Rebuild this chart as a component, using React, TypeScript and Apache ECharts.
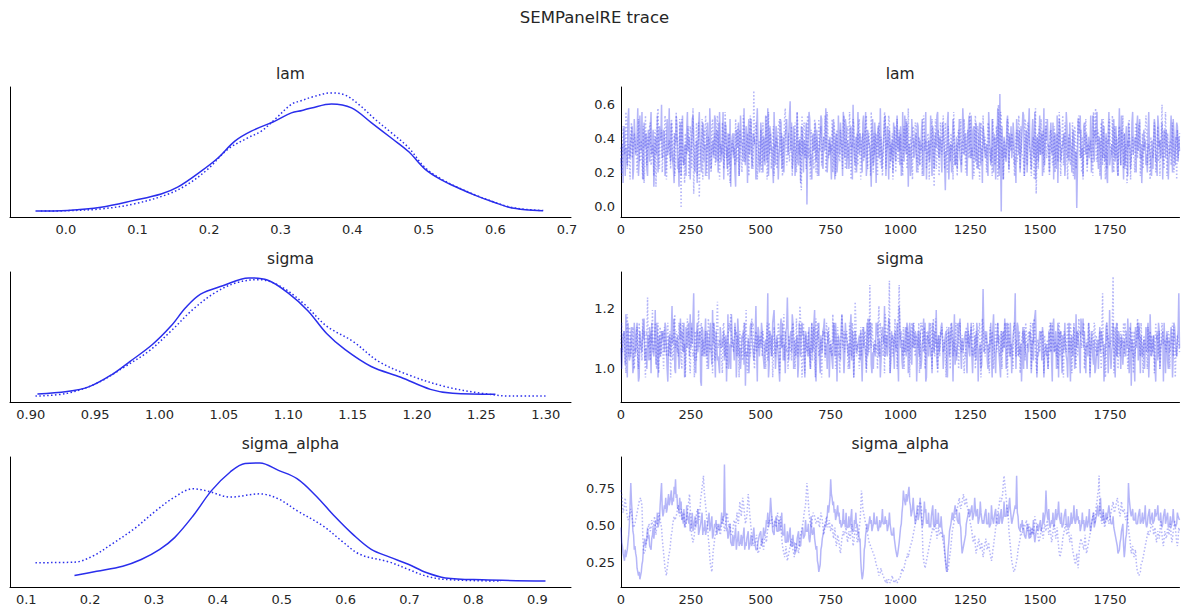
import React, { useEffect, useRef } from "react";
import * as echarts from "echarts";

// ---------- posterior densities: [value, density] ----------
const lamKde0 = [
  [-0.0425, 0.0], [0.002, 0.02], [0.049, 0.11], [0.095, 0.3], [0.133, 0.48], [0.156, 0.67],
  [0.189, 1.12], [0.212, 1.48], [0.236, 1.96], [0.259, 2.24], [0.292, 2.52], [0.315, 2.75],
  [0.33, 2.82], [0.343, 2.89], [0.371, 3.0], [0.399, 2.89], [0.427, 2.47], [0.455, 2.04],
  [0.479, 1.66], [0.502, 1.17], [0.526, 0.86], [0.549, 0.64], [0.572, 0.44], [0.596, 0.26],
  [0.619, 0.11], [0.642, 0.04], [0.666, 0.01],
];
const lamKde1 = [
  [-0.035, 0.0], [0.0, 0.01], [0.049, 0.06], [0.095, 0.2], [0.142, 0.47], [0.17, 0.75],
  [0.198, 1.17], [0.226, 1.73], [0.254, 2.05], [0.273, 2.24], [0.292, 2.57], [0.315, 2.99],
  [0.33, 3.1], [0.343, 3.19], [0.371, 3.31], [0.39, 3.25], [0.409, 2.99], [0.432, 2.57],
  [0.455, 2.19], [0.479, 1.77], [0.502, 1.21], [0.526, 0.88], [0.549, 0.65], [0.572, 0.45],
  [0.596, 0.27], [0.619, 0.12], [0.642, 0.05], [0.67, 0.01],
];
const sigmaKde0 = [
  [0.9052, 0.21], [0.9282, 0.36], [0.9455, 0.67], [0.9628, 1.41], [0.9772, 2.25], [0.9945, 3.3],
  [1.0089, 4.45], [1.0204, 5.61], [1.0319, 6.45], [1.0492, 6.97], [1.0693, 7.46], [1.0837, 7.33],
  [1.101, 6.45], [1.1154, 5.4], [1.1298, 3.99], [1.1442, 2.98], [1.1644, 1.93], [1.1874, 1.26],
  [1.2104, 0.5], [1.2277, 0.25], [1.2609, 0.19],
];
const sigmaKde1 = [
  [0.9037, 0.08], [0.9282, 0.25], [0.9513, 0.88], [0.9714, 1.83], [0.9916, 2.88], [1.0089, 4.14],
  [1.0261, 5.5], [1.0434, 6.55], [1.0607, 7.18], [1.078, 7.35], [1.0953, 6.87], [1.1125, 5.82],
  [1.1298, 4.45], [1.15, 3.51], [1.1701, 2.25], [1.1932, 1.41], [1.222, 0.67], [1.2508, 0.25],
  [1.2739, 0.08], [1.2998, 0.08],
];
const sigmaAlphaKde0 = [
  [0.1755, 0.24], [0.2103, 0.4], [0.251, 0.59], [0.28, 0.84], [0.309, 1.22], [0.3322, 1.66],
  [0.3613, 2.48], [0.3903, 3.43], [0.4193, 4.12], [0.4425, 4.44], [0.4658, 4.46], [0.4948, 4.18],
  [0.5238, 3.87], [0.5529, 3.24], [0.5819, 2.48], [0.6109, 1.79], [0.64, 1.22], [0.669, 0.93],
  [0.698, 0.66], [0.7271, 0.34], [0.7561, 0.15], [0.8141, 0.08], [0.9128, 0.03],
];
const sigmaAlphaKde1 = [
  [0.1145, 0.72], [0.1755, 0.74], [0.2045, 0.97], [0.2335, 1.41], [0.2684, 1.98], [0.3032, 2.67],
  [0.3322, 3.18], [0.3613, 3.49], [0.3845, 3.4], [0.4193, 3.18], [0.4658, 3.3], [0.4948, 3.11],
  [0.5238, 2.67], [0.5645, 2.1], [0.5935, 1.54], [0.6225, 1.03], [0.669, 0.74], [0.698, 0.47],
  [0.7271, 0.21], [0.7561, 0.09], [0.8432, 0.03],
];

// ---------- MCMC draws ----------
// One character per kept draw; value = lo + LEVELS.indexOf(char) * step.
// "Even" and "Odd" hold alternating kept draws and are interleaved when plotted.
const LEVELS = "0123456789ABCDEFGHIJKLMNOPQRSTUVWXYZ";

const lamChain0Even = [
  "GKNBJRHLPD", "MIUFKTAJNB", "LPHOEKSIMV", "JNDRLHQF9K", "PGMBSEKOIL", "HRNCLJTGMP", "KEQAOHLSFN", "IMGTJPDKRH",
  "NJ8LQGMIUE", "KOHRFNJPLC", "QIMEKUHNJ9", "LPJGRDMIOK", "HWQFLBTEKP", "JLG3NRHMIQ", "OHKSEMJPGL", "MJRANFKQIT",
  "GPLDOJVHMK", "KNIQGTELJ8", "RGMJPHLDNS", "IKOFLQHNJM", "PEJSHMKBRL", "HNQJLOFKTI", "LIGPDNSJMH", "QK7HTGJLOE",
  "MJRFKPHNIS", "GLOIQEMKJP", "NHKTJGRLAM", "KY1IMGQHNP", "JMGRLOHKSF", "OIUHNJTGLK", "HNKEPRJMIQ", "LGSJOHKNFP",
  "MQIKLH2RNG", "JPLNEGSKIO", "QHMJRKFN9T", "GKOIPDMJSH", "NLHQJGTKMP", "IRKFOLHNJE", "LMPHSJGQKN", "OJGNKRHLPM",
];
const lamChain0Odd = [
  "C9PJEUGLAR", "HNBSIEQKDO", "FTJ8MHCPLG", "OBKHUFIDNS", "D8QLGJBTMA", "KSEH9PLCQF", "BNIUDKGROC", "TFLAQHNE8M",
  "GCOJBSKFIP", "9RHDNLAUGE", "NCKSFBPIDT", "EMAJQGCNRH", "SIDPBKFL9O", "CGQHTEANKF", "JBNRDIUCHM", "AOFKCSHLBQ",
  "RDJGPAMECT", "HLCSIBOKFN", "EQ9MGUDJRB", "PAKHCNFSIE", "BTFLQ8JDMG", "KCPEIRBNAH", "FSBMDJTGLC", "OEIQAKCRHF",
  "DLGCUHNBPJ", "SAPFJDQE9N", "GKBOERCMIU", "BHPAKFSDJG", "QE9NHCKTBL", "CPJDRGAMFS", "IBUELKCQHA", "ND9RFJMBTG",
  "FKCOAIDPSH", "BQHEMJCSFK", "TDLAGPIBNE", "HCRFKBUEJA", "EPBNDQHLCS", "MG9KIECTHB", "DRFBPLJAOG", "KAHSCNEQFI",
];
const lamChain1Even = [
  "JFMIQHKNGL", "NHKRGLPEJM", "KQGJN8SHLO", "HMPFKIRJNE", "LIR2KGNHPJ", "MG6KQH5JRL", "IOJLEPHNKS", "QKHNGTJM9I",
  "LNRFJOHKPG", "JIMQGZKNHL", "OHLJSEKNIP", "KMGQINHRLE", "NJPHLFTKM7", "HQKNGJOLDR", "MIJPHKSGNL", "KRFLNIHOJQ",
  "JLPGMKRHEN", "PHKNIQGLJT", "GNLHOJMBKR", "LJQKNHPIGO", "NGKIRLHMJP", "JPHMEKQNLI", "MKNJ8RGOIL", "HLQGPJNKTE",
  "KNIRLHMJOG", "QJGNKPHLIS", "IMKPHJRNGL", "VHSJLGKQMI", "LKHOJNPIFR", "JQLIGMK6NP", "HMOKRJGNLE", "PINJLHSKMG",
  "KLGQHNJRIO", "MJPHKILGTN", "GOKNJRHMLQ", "JHLPGKNIOS", "NK9JRHMGPL", "LQHNKJOIEM", "IJMGPLKVHN", "KNHLJQGMOI",
];
const lamChain1Odd = [
  "BPHTDKAQGN", "ICRFLA9SEJ", "PEKBOHUDMC", "GSAILDQFBT", "MCHRE9NKBP", "DUFJBQGLAO", "SBMHCRIEPF", "AKQDTGBNHL",
  "HEIPBMCSFJ", "NBSGDKQAIE", "CQFMATHDLB", "JDORGBKUEH", "FLBIQCPHAS", "OGDSJAMFRC", "BRIEKNCTGH", "ICQBOHFLDS",
  "DMGTAJPCKE", "RAKFISDNBM", "CHNBQEJGTD", "LSDHAMCRFI", "EBPJDUGKAO", "QFCLHBSIDN", "AJRGMDKBQH", "SDHCPFIAMG",
  "BOKEJRCLHT", "GHBSDNAQFK", "MCQIFBLEPA", "DTGAKHRCJN", "KBMFSDIGBQ", "EPIBLAUHDJ", "RHCNGKBOFE", "CKFTBHEQIA",
  "NEJBPDLSGC", "AHRCKIFBMU", "FNBQEGADKR", "ISCHMBPEJD", "DFLRAIHCQG", "PBGDJSEKAM", "GQCMFBOHDT", "BKIEQCJAGN",
];

const sigmaChain0Even = [
  "ECHAFKBGD9", "FIC7GDJBEH", "BGKDFAHECI", "GDJ9EHCFL8", "DHBGEKAFIC", "EFRBHDG6JC", "HCGEKAFDIB", "CJEGBHD9FM",
  "FBHDIECGA5", "DGCKFBHEJC", "EIBFDRAHCK", "GDHCJEBFIQ", "BFDKGCHAEJ", "HCIEFBGDKA", "EGBHDJCFI7", "FDKCGEHBMD",
  "CHEFJBGDIE", "GBIDFCKEHA", "DFCHEGBJFC", "HEKBGDIFCO", "EBGFCJDHAK", "FHCEIBGD6G", "CGEKDFBHEJ", "GDHBFCIEGA",
  "BFJDGEHCKD", "HCEGBIDFAS", "DGBFHCJE8G", "FCIDEGBHCK", "EHRGJDFC9I", "CFDHEBKGDF", "GBHCFEIDBJ", "DIE7GCHFEB",
  "FCGDJBEHCL", "HEBFCGDIA8", "CGFDHEBJFD", "EDKBGCIFHA", "GCEHD5FBJE", "BFHCGEDKCG", "DHCFBIEG6F", "FBGDHCJEGR",
];
const sigmaChain0Odd = [
  "9HIM7FCJ8K", "DK6IGILC9E", "J8FCNK7HDI", "IKE6HCOK9G", "H9LID7JEKM", "KFC8KGI5ID", "LI9HDNK7FC", "8JEIG6MC9H",
  "EK7LC9HIKD", "C8JKFDO6IG", "KD9GI7IEKN", "9HC6LKE8JI", "FIM9DG7KCK", "I7HCJ9KEN6", "IK8FILC9GD", "D9KK6HEIJ8",
  "KGC9MI7IDF", "HI6JE9CLK8", "9EKKC7GIOD", "CL8IH9DK6J", "G9DJK8KCIE", "I6IC9FLK7H", "KC8EIN9DGK", "9FI7JCK6MD",
  "EKL9DGI8HC", "K8CHK6E9IJ", "II9DK7MCFK", "C7GIL9KEK8", "HK9KCE6JID", "9DI8GKN7CI", "IJ7CE9HK6L", "E9KII8DKC7",
  "K6HC9MIF8J", "LI8EK7ICG9", "C9JIH6DK8N", "9FK7KCI9HE", "DIL8KGC6JK", "K8EC9JI7MC", "GC6HK9EIK8", "I9DJ7KGCIE",
];
const sigmaChain1Even = [
  "FDIBGEJCHA", "EHCKFBGDIQ", "GBFDHEC8JD", "DJEGCIFBKE", "HCGEKD7FHB", "FGDIBHEJCG", "CIEHFDKBGP", "EFBJDGCHIE",
  "GDHCFIEBKD", "BHFEJCGDHF", "FCIDGBKEHC", "DGEHCFJBIE", "HEBKGDFCOD", "CFHDIEGBJ7", "EJCGDHBKFH", "GCFIEJDGMF",
  "DHEBGCIFKD", "FGCJEHDLTE", "HDGFKCIEHM", "EIUDHGLFKT", "GFJEIDHGKF", "DHGKFIEJDG", "FEIHDLGFCH", "HGDJFEKIGD",
  "CIFEHGDJFE", "GDKFIEHCGJ", "EHGDJFIEKD", "FCIHEGDKHF", "DJFGCIEHFB", "HEGKDFJCGE", "FIDHEGCKEH", "DGFJCHEIFD",
  "GEHDKFICHG", "EKCGFIDHEJ", "HDGEJCFBGE", "FIVHDKGCEF", "CHFEJDGIEH", "GEKCHFDJGC", "EHDGFICKFG", "DFHEGCJEHF",
];
const sigmaChain1Odd = [
  "KDG8MCIEJ9", "CJ9GDLI7HE", "HINEK9KFCI", "9GCKE7HDMI", "EKK9IFCLI8", "JC7HINEKGD", "I9LDF8JCKE", "GE8KC9HKMF",
  "DJIH7GEICN", "8FCLK9IDEH", "IIE9KDGC7J", "CGK8HEMID9", "FDJI9LCHK7", "K8HEC9KGDL", "KCE7IIFKJD", "DMK9GC8HEI",
  "HI9KDK7PCF", "9JCEI8LDGK", "EGD9OKIC8K", "IK8GCFE9NH", "IC9DJI7GEK", "CHE8KKD9II", "GK9LCE8HIJ", "DF7II9KCEK",
  "K9KDG8CJIH", "JCI9EHK7LD", "CGE8JI9FKK", "HD9IKK7ICE", "9KCGD8EIJK", "EIH9KLC8GD", "II8EC9JDKH", "GC9KIE7HDK",
  "DK8HF9CLIE", "I9CEK8GIKD", "CEI9RD7KHF", "FK8JC9EIGK", "KG9DII8CEL", "JCK8GE9DIH", "D8KIC9HKFE", "HI9EKJ7CGD",
];

const sigmaAlphaChain0Even = [
  "GB8A9CHSKE", "B85436ADCG", "EBDGFIKHMS", "JMOLPNQORT", "PMONKLIMJK", "HKGJILFHKG", "IFHKGJEHIF", "HGKIXKGEHC",
  "EDGCFBEDGC", "DFBECGDACE", "FCGEIKHOIF", "HJFIGKEHCF", "DGBEC9DFBE", "GDIFHCJEGD", "B64ADFHIMK", "TONLJMKIGL",
  "IKGJHLFIKH", "FD43AEHGJI", "GKHJFIGLHJ", "IGKHEGDA9C", "GKQNPORMKO", "LIMJOKHNLI", "KHJMGLIKHJ", "GE84AFHKJM",
  "LIKG9BDHJL", "KMIOJLHNKI", "JLHKGMIJLH", "KILHNJMKOL", "IKMUJGHIGE", "FHDGEICFHG", "IGKHQJLGIK", "HLJNIKGJLH",
  "JGKIMHLJIG", "KIGJHLFIKH", "JMKOILHKJM", "KHJGEB9CFH", "8DHSMJLIKH", "JLHKIMGJLI", "KHLJMIKGJL", "IKGJHLIGKJ",
];
const sigmaAlphaChain0Odd = [
  "C978AEMNFA", "953247ABDD", "BAEDFHGIPL", "KLKLMNMNPO", "LKLIHGHIHF", "GFGGHEFHEF", "EFHFGDEGEF", "FHHJJFDECB",
  "BEADBCBEAB", "DACBEDAACE", "BDEFHGKLFE", "HFFFHEECCC", "DBBB9ADBBE", "DEFFDEFEDA", "746BDFGJKO", "PMKIJJHGHH",
  "GGGGHFFHGE", "C725BEFGHF", "HHHGGGIHHH", "FHHEEDA89E", "HMOMNONJLL", "HIIKKGJKHH", "GGJHHHHGGG", "DA56CFHIJK",
  "IHHC9BEHJJ", "KIKLJHJKHH", "JHHGHJHJHH", "HIHJJJJKLH", "IKLKGFGFED", "FEEEFECGFG", "FHHKLIHGHG", "HIKJHGHJHG",
  "GHHJIIIHFH", "HFGGIGFIGH", "JJLKIIHIJK", "HHGEC9ADFB", "AEKOKJIIHH", "JHIHJHHJHI", "HIJKIIHHJH", "IGHGIIGHJI",
];
const sigmaAlphaChain1Even = [
  "QNKOMIJLKG", "HJLNOMA9CF", "HFIGJEHKIG", "B7458AEHJI", "KMJLIKGJMP", "JDCGKLIORU", "OKGB64ADFH", "GEHJFIKGHE",
  "FIGKHNJOLH", "JPKGDBCE9A", "BDAECGIHJG", "IGKHJDA8B7", "9BDA8CB9DF", "HKMSNIGJKI", "HJGKIEHJGI", "FHDGBEC9DF",
  "EGCFDHBEGC", "FIQLJHFDCB", "A976435432", "2121321212", "3546798BCE", "GJKMNL9658", "ACEGFHDGEF", "DB7548BFHJ",
  "KMOLNPMOLJ", "IFCE9BDAC8", "BDAC97ADGJ", "LONPUQMJD9", "6457ACFEHG", "IFHDGEJHFC", "EGDHFIEGCF", "HDGB8ADFHE",
  "GCEA8695BD", "CAE9BDGIKH", "MPUJHKGIJH", "JLNKMOLJNK", "LIKGD9B8A5", "43679BDFEG", "HEGCFDIEBF", "DGEHCFIEBG",
];
const sigmaAlphaChain1Odd = [
  "PKMMJIJKHG", "HKMNNF9ADG", "GGHHGGIJHD", "95369CFIIJ", "LKKJJHHKNL", "ECEIKJLPSQ", "MID857BEGG", "FFIHGJIGFE",
  "HHIIKLLNJI", "MNIECBDB9A", "CBCDEHIIHH", "HIIIGB9998", "ACB9ABABEG", "ILPQKHHKJH", "IHIJGFIHHG", "GFEDCDABEE",
  "FEDEFECFED", "GLOKIGECBA", "9865344321", "1212212122", "445788ABDF", "HJLMMF7579", "BDFFGFEFEE", "C96469DGIK",
  "LNMMONNMKI", "GDDBACBBA9", "CBBA88BEHK", "MOOSSOKFB7", "5468BDEFGH", "GGFEFGIGDD", "FEFGHGFEDG", "FED99BEGFF",
  "EDC97778CC", "BCBACEHJIK", "NQLIIHHIII", "KMLLNNKLLK", "JJIEBA9974", "3468ACEEFH", "GFEDEFGCDE", "EFGEDGGCDF",
];

// ---------- tick labels ----------
const lamKdeTicks = [0.0, 0.1, 0.2, 0.3, 0.4, 0.5, 0.6, 0.7];
const sigmaKdeTicks = [0.9, 0.95, 1.0, 1.05, 1.1, 1.15, 1.2, 1.25, 1.3];
const sigmaAlphaKdeTicks = [0.1, 0.2, 0.3, 0.4, 0.5, 0.6, 0.7, 0.8, 0.9];
const lamTraceTicks = [0.0, 0.2, 0.4, 0.6];
const sigmaTraceTicks = [1.0, 1.2];
const sigmaAlphaTraceTicks = [0.25, 0.5, 0.75];
const drawTicks = [0, 250, 500, 750, 1000, 1250, 1500, 1750];

const N_DRAWS = 2000;

const decode = (groups: string[], lo: number, step: number): number[] =>
  groups.join("").split("").map((c) => lo + LEVELS.indexOf(c) * step);

const interleave = (even: number[], odd: number[]): number[] => {
  const out: number[] = [];
  for (let i = 0; i < even.length; i++) {
    out.push(even[i]);
    if (i < odd.length) out.push(odd[i]);
  }
  return out;
};

const FONT = "DejaVu Sans";
const TEXT = "#262626";
const BLUE = "#2a2eec";

type Panel = {
  name: string;
  kde: number[][][];
  kdeTicks: number[];
  kdeDec: number;
  chains: [string[], string[]][];
  lo: number;
  step: number;
  traceRange: [number, number];
  traceTicks: number[];
  traceDec: number;
};

const panels: Panel[] = [
  {
    name: "lam", kde: [lamKde0, lamKde1], kdeTicks: lamKdeTicks, kdeDec: 1,
    chains: [[lamChain0Even, lamChain0Odd], [lamChain1Even, lamChain1Odd]], lo: -0.05, step: 0.021,
    traceRange: [-0.061, 0.706], traceTicks: lamTraceTicks, traceDec: 1,
  },
  {
    name: "sigma", kde: [sigmaKde0, sigmaKde1], kdeTicks: sigmaKdeTicks, kdeDec: 2,
    chains: [[sigmaChain0Even, sigmaChain0Odd], [sigmaChain1Even, sigmaChain1Odd]], lo: 0.872, step: 0.014,
    traceRange: [0.888, 1.321], traceTicks: sigmaTraceTicks, traceDec: 1,
  },
  {
    name: "sigma_alpha", kde: [sigmaAlphaKde0, sigmaAlphaKde1], kdeTicks: sigmaAlphaKdeTicks, kdeDec: 1,
    chains: [[sigmaAlphaChain0Even, sigmaAlphaChain0Odd], [sigmaAlphaChain1Even, sigmaAlphaChain1Odd]],
    lo: 0.085, step: 0.025,
    traceRange: [0.083, 0.961], traceTicks: sigmaAlphaTraceTicks, traceDec: 2,
  },
];

// figure layout (px)
const LEFT_X = 10;
const LEFT_W = 561;
const RIGHT_X = 621;
const RIGHT_W = 558.5;
const ROW_TOP = [87, 272, 457];
const ROW_H = 130;

const padded = (vals: number[]): [number, number] => {
  const lo = Math.min(...vals);
  const hi = Math.max(...vals);
  const m = (hi - lo) * 0.05;
  return [lo - m, hi + m];
};

const axisLine = { show: true, onZero: false, lineStyle: { color: "#000000", width: 1 } };
const labelStyle = { color: TEXT, fontSize: 13, fontFamily: FONT, margin: 6 };

function buildOption() {
  const grid: any[] = [];
  const xAxis: any[] = [];
  const yAxis: any[] = [];
  const series: any[] = [];
  const graphic: any[] = [
    {
      type: "text", x: 594.5, y: 17,
      style: { text: "SEMPanelRE trace", fontSize: 16.5, fontFamily: FONT, fill: TEXT, align: "center", verticalAlign: "middle" },
    },
  ];

  panels.forEach((p, r) => {
    const top = ROW_TOP[r];
    const gKde = grid.length;
    grid.push({ left: LEFT_X, top, width: LEFT_W, height: ROW_H });
    const gTr = grid.length;
    grid.push({ left: RIGHT_X, top, width: RIGHT_W, height: ROW_H });

    // density panel
    const xs = p.kde.flat().map((pt) => pt[0]);
    const ys = p.kde.flat().map((pt) => pt[1]);
    const [xmin, xmax] = padded(xs);
    const [ymin, ymax] = padded(ys);
    xAxis.push({
      type: "value", gridIndex: gKde, min: xmin, max: xmax,
      axisLine, axisTick: { show: false }, splitLine: { show: false },
      axisLabel: { ...labelStyle, customValues: p.kdeTicks, formatter: (v: number) => v.toFixed(p.kdeDec) },
    });
    yAxis.push({
      type: "value", gridIndex: gKde, min: ymin, max: ymax,
      axisLine, axisTick: { show: false }, splitLine: { show: false }, axisLabel: { show: false },
    });
    p.kde.forEach((curve, c) => {
      series.push({
        type: "line", xAxisIndex: gKde, yAxisIndex: gKde, data: curve,
        symbol: "none", smooth: 0.35, silent: true,
        lineStyle: { color: BLUE, width: 1.5, type: c === 0 ? "solid" : [1.5, 2.4] },
      });
    });

    // trace panel
    xAxis.push({
      type: "value", gridIndex: gTr, min: 0, max: N_DRAWS - 1,
      axisLine, axisTick: { show: false }, splitLine: { show: false },
      axisLabel: { ...labelStyle, customValues: drawTicks, formatter: (v: number) => v.toFixed(0) },
    });
    yAxis.push({
      type: "value", gridIndex: gTr, min: p.traceRange[0], max: p.traceRange[1],
      axisLine, axisTick: { show: false }, splitLine: { show: false },
      axisLabel: { ...labelStyle, customValues: p.traceTicks, formatter: (v: number) => v.toFixed(p.traceDec) },
    });
    p.chains.forEach(([even, odd], c) => {
      const vals = interleave(decode(even, p.lo, p.step), decode(odd, p.lo, p.step));
      const n = vals.length;
      series.push({
        type: "line", xAxisIndex: gTr, yAxisIndex: gTr,
        data: vals.map((v, i) => [(i * (N_DRAWS - 1)) / (n - 1), v]),
        symbol: "none", smooth: false, silent: true,
        lineStyle: { color: BLUE, width: 1.5, opacity: 0.35, type: c === 0 ? "solid" : [1.5, 2.0] },
      });
    });

    // panel titles
    [LEFT_X + LEFT_W / 2, RIGHT_X + RIGHT_W / 2].forEach((cx) => {
      graphic.push({
        type: "text", x: cx, y: top - 13.5,
        style: { text: p.name, fontSize: 15.5, fontFamily: FONT, fill: TEXT, align: "center", verticalAlign: "middle" },
      });
    });
  });

  return { animation: false, backgroundColor: "#ffffff", grid, xAxis, yAxis, series, graphic };
}

export default function App() {
  const ref = useRef<HTMLDivElement>(null);
  useEffect(() => {
    if (!ref.current) return;
    const chart = echarts.init(ref.current, undefined, { renderer: "svg" });
    chart.setOption(buildOption());
    return () => chart.dispose();
  }, []);
  return (
    <div
      ref={ref}
      style={{ position: "absolute", left: 0, top: 0, width: 1189, height: 616, background: "#ffffff" }}
    />
  );
}
